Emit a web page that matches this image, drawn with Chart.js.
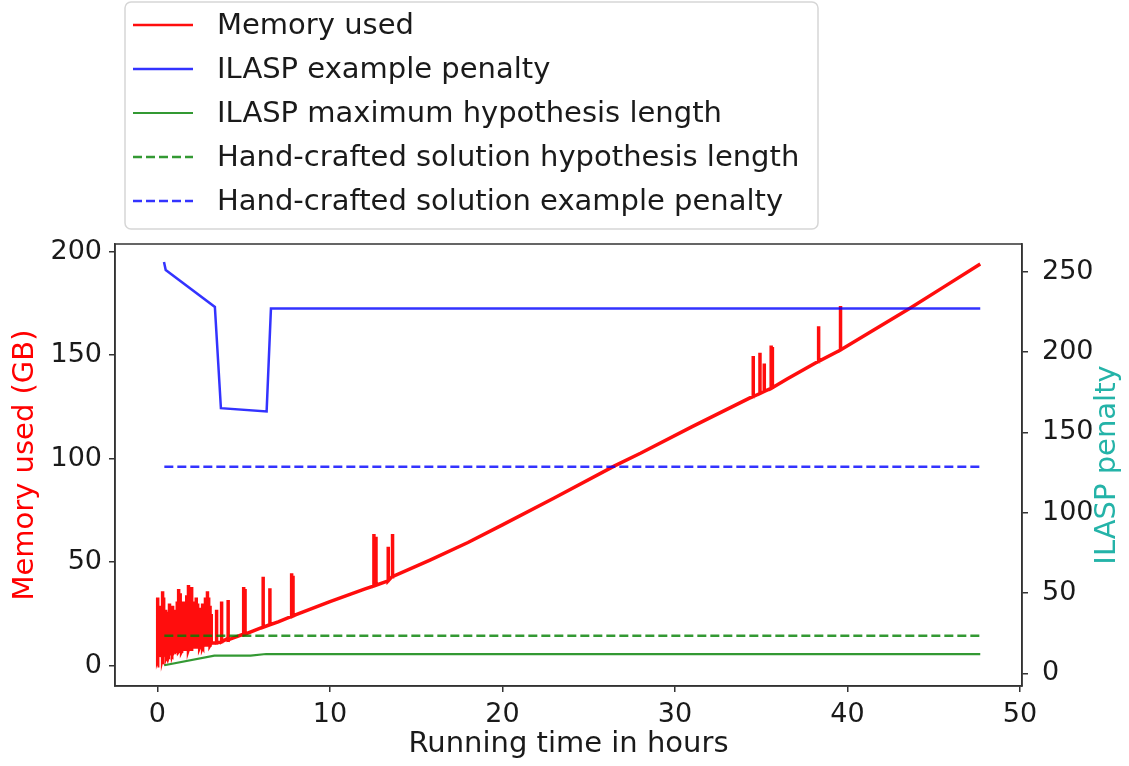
<!DOCTYPE html>
<html>
<head>
<meta charset="utf-8">
<script src="https://cdn.jsdelivr.net/npm/chart.js@4.4.0/dist/chart.umd.min.js"></script>
<style>
  body { margin: 0; background: #fff; }
  #wrap { width: 1129px; height: 766px; }
</style>
</head>
<body>
<div id="wrap"><canvas id="grafico" width="1129" height="766"></canvas></div>
<script>
// valores (horas / GB / penalidade)
const memBaseHours = [0, 1, 2, 3, 4, 5, 6, 7, 8, 10, 12, 13.6, 15.8, 18, 20, 23, 26.5, 28, 31, 34.5, 36.5, 38.3, 39.6, 41.5, 43.6, 45.5, 47.7];
const memBaseGB = [0, 6.7, 8.3, 10, 12.8, 15.3, 18.3, 21.2, 24.5, 31, 37, 43, 51, 59.5, 68, 81, 96.5, 102.6, 115.5, 130, 138.5, 147, 152.5, 162, 172.6, 182.5, 194];

// picos de memoria: hora, topo, base
const spikeHours = [0.00, 0.03, 0.05, 0.08, 0.12, 0.16, 0.20, 0.25, 0.30, 0.36, 0.41, 0.45, 0.49, 0.52, 0.56, 0.60, 0.65, 0.70, 0.74, 0.78,
  0.83, 0.88, 0.92, 0.95, 1.00, 1.05, 1.10, 1.15, 1.20, 1.25, 1.32, 1.37, 1.42, 1.46, 1.50, 1.55, 1.60, 1.65, 1.70, 1.75,
  1.80, 1.84, 1.88, 1.95, 2.00, 2.05, 2.10, 2.15, 2.20, 2.25, 2.30, 2.35, 2.40, 2.45, 2.50, 2.55, 2.62, 2.67, 2.72, 2.76,
  2.80, 2.85, 2.90, 2.97, 3.00, 3.05, 3.12,
  3.43, 3.72, 4.10, 5.00, 5.08, 6.13, 6.52, 7.78, 7.86, 12.55, 12.67, 13.38, 13.63, 34.54, 34.93, 35.18, 35.58, 35.65, 38.33, 39.60];
const spikePeakGB = [33, 22, 20, 26, 29, 23, 24, 27, 36, 33, 25, 27, 23, 25, 24, 22, 26, 30, 24, 26,
  23, 29, 25, 24, 26, 27, 24, 31, 26, 37, 35, 27, 28, 25, 31, 26, 30, 27, 34, 28,
  39, 30, 33, 38, 27, 31, 26, 29, 27, 33, 25, 30, 26, 28, 27, 26, 30, 25, 27, 24,
  33, 27, 36, 33, 26, 29, 25,
  27, 31, 31.7, 38, 37, 43, 37.4, 44.6, 43.5, 63.6, 62.3, 57.5, 63.6, 149.6, 151.2, 146, 154.7, 154, 164, 173.7];
const spikeBaseGB = [1, 4, 5, 5, 5, 5, 6, 5, 4, 6, 6, 6, 6, 5, 6, 7, 6, 6, 7, 7,
  6, 6, 7, 7, 7, 7, 7, 7, 7, 7, 8, 7, 7, 8, 8, 8, 8, 8, 8, 8,
  8, 9, 9, 8, 9, 9, 9, 9, 9, 9, 9, 9, 9, 9, 10, 10, 9, 10, 10, 10,
  10, 10, 10, 10, 10, 10, 11,
  11, 11.5, 12.5, 15, 15.2, 18.6, 19.8, 23.8, 24, 38.5, 38.9, 41, 43, 130, 131.5, 132.5, 134, 134.3, 147, 152.5];

const penaltyHours = [0.38, 0.48, 3.33, 3.68, 6.33, 6.58, 47.7];
const penaltyValues = [256, 251, 228, 165, 163, 227, 227];

const maxLenHours = [0.4, 3.3, 5.4, 6.3, 47.7];
const maxLenValues = [5, 11, 11, 12, 12];

const handLenHours = [0.4, 47.7];
const handLenValues = [23.4, 23.4];

const handPenHours = [0.4, 47.7];
const handPenValues = [128.6, 128.6];

const xTicks = [0, 10, 20, 30, 40, 50];
const memTicks = [0, 50, 100, 150, 200];
const penTicks = [0, 50, 100, 150, 200, 250];

const FONTE = 'DejaVu Sans';

// monta a serie de memoria juntando a curva base com os picos
function serieMemoria() {
    const pts = memBaseHours.map((h, i) => ({ x: h, y: memBaseGB[i], k: 0 }));
    spikeHours.forEach((h, i) => {
        pts.push({ x: h, y: spikeBaseGB[i], k: 1 });
        pts.push({ x: h, y: spikePeakGB[i], k: 2 });
        pts.push({ x: h, y: spikeBaseGB[i], k: 3 });
    });
    pts.sort((a, b) => a.x - b.x || a.k - b.k);
    return pts.map(p => ({ x: p.x, y: p.y }));
}

function pares(xs, ys) {
    return xs.map((x, i) => ({ x: x, y: ys[i] }));
}

// legenda desenhada a mao, como no matplotlib
const legendaPlugin = {
    id: 'legendaCaixa',
    afterDraw(chart) {
        const ctx = chart.ctx;
        ctx.save();
        const bx = 125, by = 2, bw = 693, bh = 227, r = 6;
        ctx.beginPath();
        ctx.roundRect(bx, by, bw, bh, r);
        ctx.fillStyle = 'rgba(255,255,255,0.8)';
        ctx.fill();
        ctx.strokeStyle = '#d6d6d6';
        ctx.lineWidth = 1.5;
        ctx.stroke();

        ctx.font = `29px "${FONTE}"`;
        ctx.textBaseline = 'middle';
        ctx.textAlign = 'left';
        chart.data.datasets.forEach((ds, i) => {
            const y = 25 + 44 * i;
            ctx.beginPath();
            ctx.setLineDash(ds.borderDash || []);
            ctx.strokeStyle = ds.borderColor;
            ctx.lineWidth = Math.min(ds.borderWidth, 2.5);
            ctx.moveTo(133, y);
            ctx.lineTo(193, y);
            ctx.stroke();
            ctx.setLineDash([]);
            ctx.fillStyle = '#1a1a1a';
            ctx.fillText(ds.label, 217, y + 1);
        });
        ctx.restore();
    }
};

// moldura do grafico e titulo do eixo direito (lido de baixo para cima)
const molduraPlugin = {
    id: 'moldura',
    afterDraw(chart) {
        const { ctx, chartArea: a } = chart;
        ctx.save();
        ctx.strokeStyle = '#333';
        ctx.lineWidth = 1.5;
        ctx.strokeRect(a.left, a.top, a.right - a.left, a.bottom - a.top);

        ctx.translate(1107, (a.top + a.bottom) / 2);
        ctx.rotate(-Math.PI / 2);
        ctx.font = `29px "${FONTE}"`;
        ctx.fillStyle = '#24b3a8';
        ctx.textAlign = 'center';
        ctx.textBaseline = 'middle';
        ctx.fillText('ILASP penalty', 0, 0);
        ctx.restore();
    }
};

function eixoBase(ticksFixos, pad) {
    return {
        type: 'linear',
        afterBuildTicks: (scale) => { scale.ticks = ticksFixos.map(v => ({ value: v })); },
        grid: { display: true, drawOnChartArea: false, drawTicks: true, tickLength: 6, color: '#333', lineWidth: 1.5 },
        border: { display: true, color: '#333', width: 1.5 },
        ticks: { color: '#1a1a1a', padding: pad, font: { family: FONTE, size: 27 } }
    };
}

const eixoX = eixoBase(xTicks, 7);
eixoX.min = -2.46;
eixoX.max = 50.12;
eixoX.afterFit = (scale) => { scale.height = 80; };
eixoX.ticks.maxRotation = 0;
eixoX.title = { display: true, text: 'Running time in hours', color: '#1a1a1a', font: { family: FONTE, size: 29 }, padding: { top: 0, bottom: 4 } };

const eixoMem = eixoBase(memTicks, 7);
eixoMem.position = 'left';
eixoMem.min = -9.81;
eixoMem.max = 203.7;
eixoMem.afterFit = (scale) => { scale.width = 111; };
eixoMem.title = { display: true, text: 'Memory used (GB)', color: '#ff0000', font: { family: FONTE, size: 29 }, padding: { top: 4, bottom: 0 } };

const eixoPen = eixoBase(penTicks, 14);
eixoPen.position = 'right';
eixoPen.min = -7.9;
eixoPen.max = 267.2;
eixoPen.afterFit = (scale) => { scale.width = 106; };

new Chart(document.getElementById('grafico'), {
    type: 'line',
    data: {
        datasets: [
            { label: 'Memory used', data: serieMemoria(), yAxisID: 'yMem', borderColor: 'rgba(255,0,0,0.95)', borderWidth: 3.5, order: 1 },
            { label: 'ILASP example penalty', data: pares(penaltyHours, penaltyValues), yAxisID: 'yPen', borderColor: 'rgba(0,0,255,0.8)', borderWidth: 2.5, order: 0 },
            { label: 'ILASP maximum hypothesis length', data: pares(maxLenHours, maxLenValues), yAxisID: 'yPen', borderColor: 'rgba(0,128,0,0.8)', borderWidth: 2.2, order: 0 },
            { label: 'Hand-crafted solution hypothesis length', data: pares(handLenHours, handLenValues), yAxisID: 'yPen', borderColor: 'rgba(0,128,0,0.8)', borderWidth: 2.5, borderDash: [9, 4], order: 0 },
            { label: 'Hand-crafted solution example penalty', data: pares(handPenHours, handPenValues), yAxisID: 'yPen', borderColor: 'rgba(0,0,255,0.8)', borderWidth: 2.5, borderDash: [9, 4], order: 0 }
        ]
    },
    options: {
        responsive: false,
        animation: false,
        elements: { point: { radius: 0 }, line: { tension: 0, fill: false } },
        layout: { padding: { top: 244, left: 4, right: 1, bottom: 0 } },
        plugins: { legend: { display: false }, tooltip: { enabled: false } },
        scales: { x: eixoX, yMem: eixoMem, yPen: eixoPen }
    },
    plugins: [legendaPlugin, molduraPlugin]
});
</script>
</body>
</html>
